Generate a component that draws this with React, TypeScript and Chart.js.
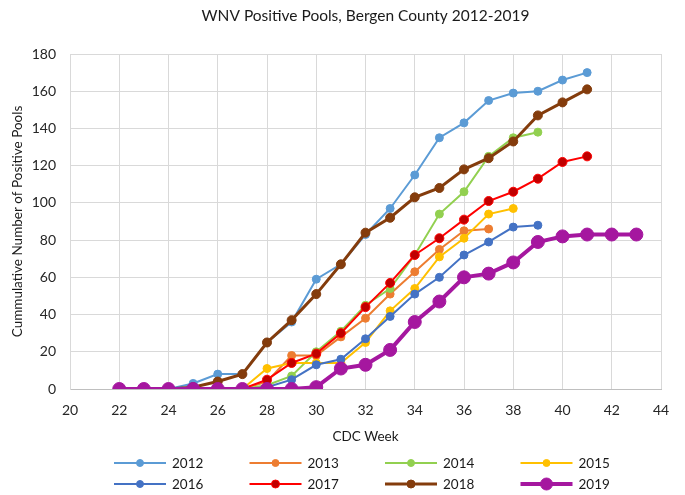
import React, { useEffect, useRef } from "react";
import { Chart, registerables } from "chart.js";

Chart.register(...registerables);

const FONT = "Lato, 'Open Sans', sans-serif";

// CDC weeks (x values)
const weeks = [22, 23, 24, 25, 26, 27, 28, 29, 30, 31, 32, 33, 34, 35, 36, 37, 38, 39, 40, 41, 42, 43];
const years = ["2012", "2013", "2014", "2015", "2016", "2017", "2018", "2019"];

// cumulative positive pools per year, starting at week 22
const pools2012 = [0, 0, 0, 3, 8, 8, 25, 36, 59, 67, 83, 97, 115, 135, 143, 155, 159, 160, 166, 170];
const pools2013 = [0, 0, 0, 0, 0, 0, 4, 18, 18, 28, 38, 51, 63, 75, 85, 86];
const pools2014 = [0, 0, 0, 0, 0, 0, 2, 7, 20, 31, 45, 54, 72, 94, 106, 125, 135, 138];
const pools2015 = [0, 0, 0, 0, 0, 0, 11, 14, 14, 14, 25, 42, 54, 71, 81, 94, 97];
const pools2016 = [0, 0, 0, 0, 0, 0, 1, 5, 13, 16, 27, 39, 51, 60, 72, 79, 87, 88];
const pools2017 = [0, 0, 0, 0, 0, 0, 5, 14, 19, 30, 44, 57, 72, 81, 91, 101, 106, 113, 122, 125];
const pools2018 = [0, 0, 0, 1, 4, 8, 25, 37, 51, 67, 84, 92, 103, 108, 118, 124, 133, 147, 154, 161];
const pools2019 = [0, 0, 0, 0, 0, 0, 0, 0, 1, 11, 13, 21, 36, 47, 60, 62, 68, 79, 82, 83, 83, 83];

const xTicks = { min: 20, max: 44, step: 2 };
const yTicks = { min: 0, max: 180, step: 20 };

const chartTitle = "WNV Positive Pools, Bergen County 2012-2019";
const xTitle = "CDC Week";
const yTitle = "Cummulative Number of Positive Pools";

const allValues = [pools2012, pools2013, pools2014, pools2015, pools2016, pools2017, pools2018, pools2019];

const styles = [
  { line: "#5B9BD5", fill: "#5B9BD5", border: "#5B9BD5", width: 2, r: 4 },
  { line: "#ED7D31", fill: "#ED7D31", border: "#ED7D31", width: 2, r: 4 },
  { line: "#92D050", fill: "#92D050", border: "#92D050", width: 2, r: 4 },
  { line: "#FFC000", fill: "#FFC000", border: "#FFC000", width: 2, r: 4 },
  { line: "#4472C4", fill: "#4472C4", border: "#4472C4", width: 2, r: 4 },
  { line: "#FF0000", fill: "#C00000", border: "#FF0000", width: 2, r: 4.5 },
  { line: "#843C0C", fill: "#843C0C", border: "#843C0C", width: 3, r: 4.5 },
  { line: "#A5179F", fill: "#A5179F", border: "#A5179F", width: 4, r: 6.5 },
];

const titlePlugin = {
  id: "topTitle",
  afterDraw(chart: any) {
    const { ctx, chartArea } = chart;
    ctx.save();
    ctx.font = `15.5px ${FONT}`;
    ctx.fillStyle = "#1a1a1a";
    ctx.textAlign = "center";
    ctx.textBaseline = "middle";
    ctx.fillText(chartTitle, (chartArea.left + chartArea.right) / 2, 16);
    ctx.restore();
  },
};

const legendPlugin = {
  id: "gridLegend",
  afterDraw(chart: any) {
    const ctx = chart.ctx;
    ctx.save();
    ctx.font = `13.5px ${FONT}`;
    ctx.textBaseline = "middle";
    ctx.textAlign = "left";
    years.forEach((yr, i) => {
      const s = styles[i];
      const col = i % 4;
      const row = Math.floor(i / 4);
      const x0 = 114 + col * 135.5;
      const y = 463 + row * 21;
      ctx.strokeStyle = s.line;
      ctx.lineWidth = s.width;
      ctx.beginPath();
      ctx.moveTo(x0, y);
      ctx.lineTo(x0 + 52, y);
      ctx.stroke();
      ctx.beginPath();
      ctx.arc(x0 + 26, y, s.r - 0.5, 0, Math.PI * 2);
      ctx.fillStyle = s.fill;
      ctx.fill();
      ctx.lineWidth = 1;
      ctx.strokeStyle = s.border;
      ctx.stroke();
      ctx.fillStyle = "#1a1a1a";
      ctx.fillText(yr, x0 + 58, y + 1);
    });
    ctx.restore();
  },
};

export default function App() {
  const ref = useRef<HTMLCanvasElement | null>(null);

  useEffect(() => {
    if (!ref.current) return;
    const datasets = allValues.map((vals, i) => ({
      label: years[i],
      data: vals.map((v, j) => ({ x: weeks[j], y: v })),
      borderColor: styles[i].line,
      backgroundColor: styles[i].fill,
      pointBackgroundColor: styles[i].fill,
      pointBorderColor: styles[i].border,
      pointBorderWidth: 1,
      pointRadius: styles[i].r,
      borderWidth: styles[i].width,
      tension: 0,
      order: allValues.length - i,
    }));

    const chart = new Chart(ref.current, {
      type: "line",
      data: { datasets },
      plugins: [titlePlugin, legendPlugin],
      options: {
        animation: false,
        responsive: true,
        maintainAspectRatio: false,
        layout: { padding: { left: 0, right: 24, top: 54, bottom: 52 } },
        plugins: {
          legend: { display: false },
          title: { display: false },
          tooltip: { enabled: false },
        },
        scales: {
          x: {
            type: "linear",
            min: xTicks.min,
            max: xTicks.max,
            afterFit: (s: any) => {
              s.height = 54;
            },
            ticks: {
              stepSize: xTicks.step,
              color: "#262626",
              font: { family: FONT, size: 14 },
              padding: 13,
              maxRotation: 0,
            },
            grid: { color: "#D9D9D9", lineWidth: 1, drawTicks: false },
            border: { color: "#BFBFBF", width: 1 },
            title: {
              display: true,
              text: xTitle,
              color: "#1a1a1a",
              font: { family: FONT, size: 13.5, lineHeight: 1 },
              padding: { top: 0, bottom: 0 },
            },
          },
          y: {
            min: yTicks.min,
            max: yTicks.max,
            afterFit: (s: any) => {
              s.width = 70;
            },
            ticks: {
              stepSize: yTicks.step,
              color: "#262626",
              font: { family: FONT, size: 14 },
              padding: 14,
            },
            grid: { color: "#D9D9D9", lineWidth: 1, drawTicks: false },
            border: { color: "#D9D9D9", width: 1 },
            title: {
              display: true,
              text: yTitle,
              color: "#1a1a1a",
              font: { family: FONT, size: 13.5 },
              padding: { top: 10, bottom: 0 },
            },
          },
        },
      },
    });
    return () => chart.destroy();
  }, []);

  return (
    <div style={{ position: "fixed", left: 0, top: 0, width: 685, height: 495, background: "#fff" }}>
      <canvas ref={ref} />
    </div>
  );
}
